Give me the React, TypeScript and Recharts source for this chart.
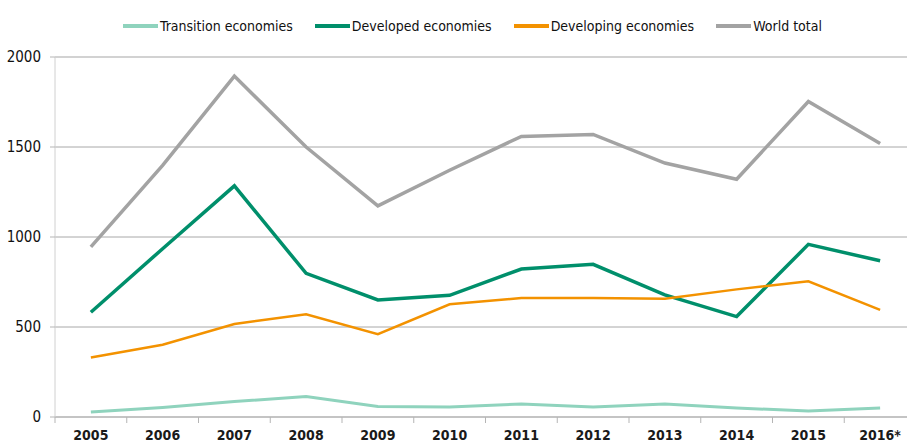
import React from "react";
import { LineChart, Line, XAxis, YAxis, CartesianGrid, ReferenceLine } from "recharts";

const years = ["2005", "2006", "2007", "2008", "2009", "2010", "2011", "2012", "2013", "2014", "2015", "2016*"];
const transition = [28, 53, 86, 114, 59, 55, 72, 55, 72, 50, 33, 50];
const developed = [582, 935, 1284, 798, 650, 676, 822, 848, 678, 558, 959, 868];
const developing = [330, 401, 517, 571, 460, 626, 661, 661, 657, 709, 754, 595];
const world = [945, 1398, 1894, 1500, 1173, 1371, 1559, 1570, 1411, 1321, 1753, 1519];
const yTicks = [0, 500, 1000, 1500, 2000];

const series = [
  { key: "transition", name: "Transition economies", color: "#8fd3bd", width: 3 },
  { key: "developed", name: "Developed economies", color: "#008f6b", width: 3.5 },
  { key: "developing", name: "Developing economies", color: "#f39200", width: 2.5 },
  { key: "world", name: "World total", color: "#a3a3a3", width: 3.5 },
];

const data = years.map((year, i) => ({
  year,
  transition: transition[i],
  developed: developed[i],
  developing: developing[i],
  world: world[i],
}));

const FONT = "'DejaVu Sans Condensed', 'DejaVu Sans', sans-serif";
const W = 920;
const H = 443;
const LEFT = 55;
const RIGHT = 4;
const band = (W - LEFT - RIGHT) / years.length;

function YearTick(props: any) {
  const { x, y, payload } = props;
  return (
    <g>
      <line x1={x - band / 2} x2={x - band / 2} y1={y - 8} y2={y - 2} stroke="#b5b5b5" />
      <text
        x={x}
        y={y + 15}
        textAnchor="middle"
        fontFamily={FONT}
        style={{ fontStretch: "condensed" }}
        fontSize={14}
        fontWeight="bold"
        fill="#1a1a1a"
      >
        {payload.value}
      </text>
    </g>
  );
}

export default function App() {
  return (
    <div style={{ position: "absolute", left: 0, top: 0, width: 907, height: 443, overflow: "hidden", background: "#fff" }}>
      <div
        style={{
          position: "absolute",
          top: 18,
          left: 123,
          display: "flex",
          gap: 22,
          fontFamily: FONT,
          fontStretch: "condensed",
          fontSize: 14,
          color: "#111",
          whiteSpace: "nowrap",
        }}
      >
        {series.map((s) => (
          <div key={s.key} style={{ display: "flex", alignItems: "center" }}>
            <span style={{ display: "inline-block", width: 35, height: 4, background: s.color, marginRight: 2 }} />
            <span>{s.name}</span>
          </div>
        ))}
      </div>
      <LineChart width={W} height={H} data={data} margin={{ top: 57, right: RIGHT, left: 0, bottom: 0 }}>
        <CartesianGrid vertical={false} stroke="#a8a8a8" />
        <ReferenceLine y={2000} stroke="#d2d2d2" strokeWidth={2} />
        <XAxis
          dataKey="year"
          height={26}
          padding={{ left: band / 2, right: band / 2 }}
          axisLine={{ stroke: "#b5b5b5" }}
          tickLine={false}
          interval={0}
          tick={<YearTick />}
        />
        <YAxis
          width={LEFT}
          domain={[0, 2000]}
          ticks={yTicks}
          axisLine={{ stroke: "#d0d0d0" }}
          tickLine={{ stroke: "#b5b5b5" }}
          tickSize={5}
          tickMargin={9}
          tick={{ fontFamily: FONT, fontSize: 15, fill: "#111", style: { fontStretch: "condensed" } }}
        />
        {series.map((s) => (
          <Line
            key={s.key}
            type="linear"
            dataKey={s.key}
            name={s.name}
            stroke={s.color}
            strokeWidth={s.width}
            dot={false}
            isAnimationActive={false}
          />
        ))}
      </LineChart>
    </div>
  );
}
